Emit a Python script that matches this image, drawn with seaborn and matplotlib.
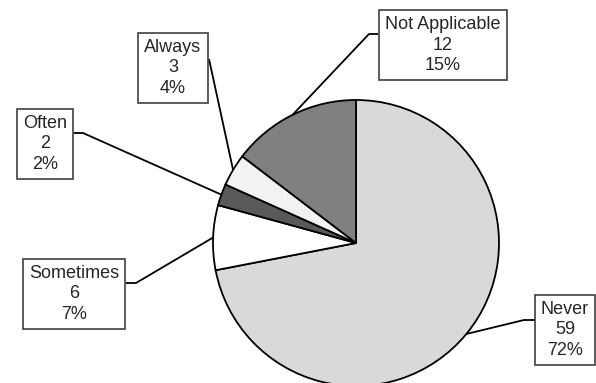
import numpy as np
import matplotlib
matplotlib.use("Agg")
import matplotlib.pyplot as plt
import seaborn as sns

labels = ["Never", "Sometimes", "Often", "Always", "Not Applicable"]
counts = [59, 6, 2, 3, 12]
colors = ["#d9d9d9", "#ffffff", "#595959", "#f2f2f2", "#808080"]

# box centers and connector points, in pixels from the top-left corner
box_centers = [(565, 330), (74, 294), (45, 144), (173, 68), (443, 45)]
box_anchor = [(535, 320), (126, 283), (74, 133), (209, 59), (378, 34)]
elbows = [(524, 320), (136, 283), (83, 133), (209, 59), (369, 34)]

sns.set_style("white")
plt.rcParams["font.family"] = ["Liberation Sans", "DejaVu Sans"]

W, H = 596, 383
fig = plt.figure(figsize=(W / 100, H / 100), dpi=100)
ax = fig.add_axes([0, 0, 1, 1])

cx, cy, r = 356, H - 243, 143
wedges, _ = ax.pie(counts, colors=colors, startangle=90, counterclock=False,
                   center=(cx, cy), radius=r,
                   wedgeprops=dict(edgecolor="black", linewidth=1.3))

total = sum(counts)
for w, lab, n, (bx, by), (ax0, ay0), (ex, ey) in zip(
        wedges, labels, counts, box_centers, box_anchor, elbows):
    mid = np.deg2rad((w.theta1 + w.theta2) / 2)
    px, py = cx + r * np.cos(mid), cy + r * np.sin(mid)
    ax.plot([ax0, ex, px], [H - ay0, H - ey, py], color="black", lw=1.3,
            zorder=1, solid_capstyle="butt")
    pct = round(100 * n / total)
    ax.text(bx, H - by, f"{lab}\n{n}\n{pct}%", ha="center", va="center",
            fontsize=13, linespacing=1.25, zorder=5,
            bbox=dict(boxstyle="square,pad=0.35", facecolor="white",
                      edgecolor="#404040", linewidth=1.2))

ax.set_xlim(0, W)
ax.set_ylim(0, H)
ax.set_aspect("auto")
ax.axis("off")

fig.savefig("out.png", dpi=100)
